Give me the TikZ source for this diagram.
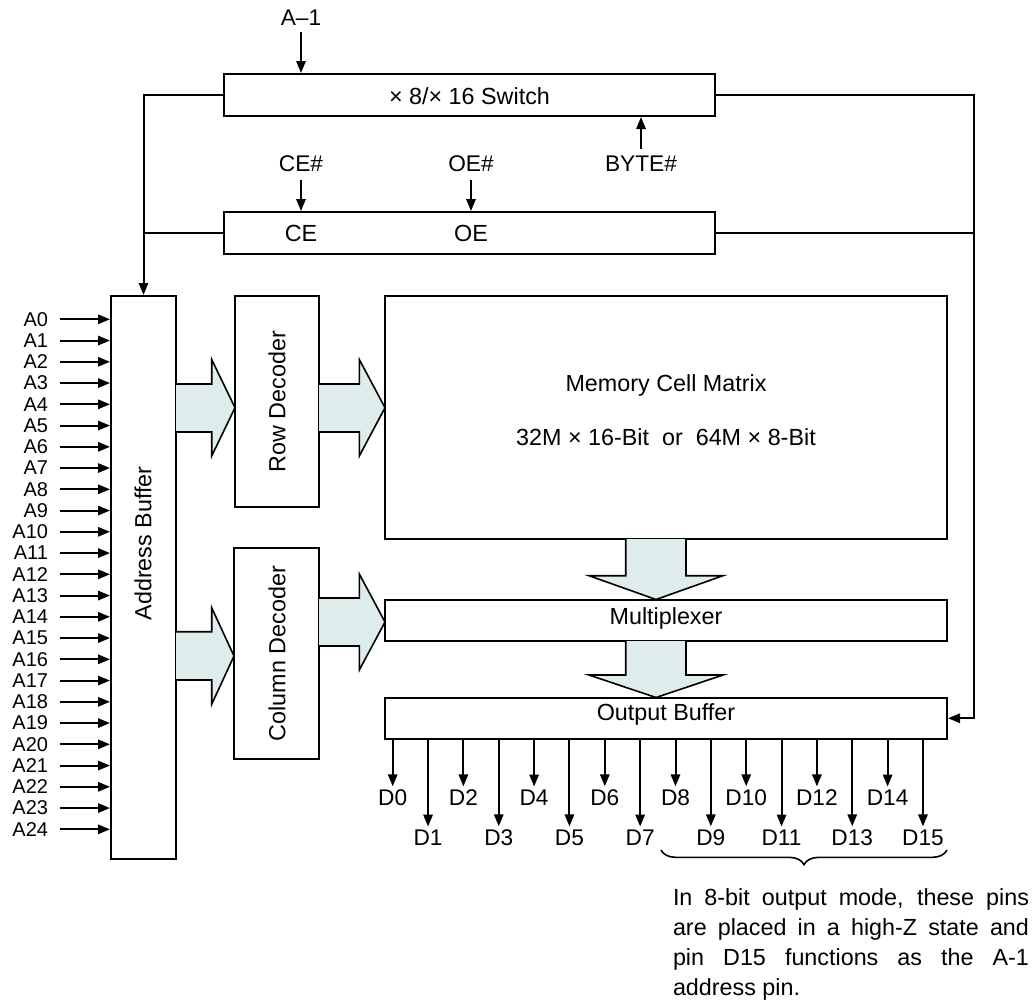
\documentclass[tikz,border=0pt]{standalone}
\usepackage{fontspec}
\setmainfont{Liberation Sans}
\usetikzlibrary{arrows.meta,positioning,decorations.pathreplacing}

\definecolor{busfill}{RGB}{222,236,236}

\tikzset{every picture/.style={line width=1.5pt}}
\tikzset{
  blk/.style 2 args={draw, rectangle, inner sep=0pt, minimum width=#1*0.75pt, minimum height=#2*0.75pt},
  txt/.style={inner sep=0pt, font=\fontsize{17.5}{22.5}\selectfont},
  apin/.style={inner sep=0pt, font=\fontsize{15}{18}\selectfont},
  dpin/.style={inner sep=0pt, font=\fontsize{17}{20}\selectfont},
  sig/.style={-{Triangle[length=9pt,width=7pt]}, line width=1.5pt},
  bus/.style={draw, fill=busfill, line width=1.2pt, line join=miter},
}

\begin{document}
\begin{tikzpicture}[x=0.75pt,y=0.75pt,yscale=-1,xscale=1]
\useasboundingbox (0,0) rectangle (1035,1007);

%Shape: Blocks
\node[blk={491}{42}] (sw) at (469.5,95) {};
\node[blk={491}{42}] (ctl) at (469.5,233) {};
\node[blk={65}{563}] (ab) at (143.5,577.5) {};
\node[blk={84}{211}] (rd) at (277,401.5) {};
\node[blk={85}{211}] (cd) at (276.5,653.5) {};
\node[blk={562}{243}] (mat) at (666,417.5) {};
\node[blk={562}{41.5}] (mux) at (666,620.25) {};
\node[blk={562}{41.5}] (ob) at (666,718.25) {};

% Text Node
\node[txt] (swt) at (469.5,96) {× 8/× 16 Switch};
\node[txt] (cet) at (301,233) {CE};
\node[txt] (oet) at (471,233) {OE};
\node[txt, rotate=90] (abt) at (143,543.5) {Address Buffer};
\node[txt, rotate=90] (rdt) at (277,401.5) {Row Decoder};
\node[txt, rotate=90] (cdt) at (277,653.5) {Column Decoder};
\node[txt] (matt) at (666,385) {Memory Cell Matrix};
\node[txt] (matsz) at (666,437) {32M × 16-Bit\ \ or\ \ 64M × 8-Bit};
\node[txt] (muxt) at (666,618) {Multiplexer};
\node[txt] (obt) at (666,714) {Output Buffer};

% Control inputs
\node[dpin] (am1) at (301,18) {A–1};
\node[dpin] (cen) at (301,164) {CE\#};
\node[dpin] (oen) at (471,164) {OE\#};
\node[dpin] (byte) at (641,164) {BYTE\#};
\draw[sig, shorten <=4pt] (am1.south) -- (am1.south |- sw.north);
\draw[sig, shorten <=5pt] (cen.south) -- (cen.south |- ctl.north);
\draw[sig, shorten <=5pt] (oen.south) -- (oen.south |- ctl.north);
\draw[sig, shorten <=5pt] (byte.north) -- (byte.north |- sw.south);

% Connection
\coordinate (rbus) at (974,95);
\draw[sig] (sw.west) -| (ab.north);
\draw (ctl.west) -- (ctl.west -| ab.north);
\draw[sig] (sw.east) -- (rbus) |- (ob.east);
\draw (ctl.east) -- (ctl.east -| rbus);

% Address pins
\foreach \i in {0,...,24}{
  \node[apin, anchor=east] (a\i) at (49,319.3+21.25*\i) {A\i};
  \draw[sig, shorten <=8pt] (a\i.east) -- (a\i.east -| ab.west);
}

% Data pins
\foreach \i in {0,...,15}{
  \pgfmathsetmacro{\dx}{392.7+35.35*\i}
  \pgfmathsetmacro{\dy}{ifthenelse(mod(\i,2)==0,798,838)}
  \node[dpin] (d\i) at (\dx,\dy) {D\i};
  \draw[sig, shorten >=2pt] (ob.south -| d\i) -- (d\i.north);
}

%Shape: Bus arrows
\draw[bus] (176,384) -- (211.7,384) -- (211.7,359.5) -- (235,407.7) -- (211.7,456) -- (211.7,432) -- (176,432);
\draw[bus] (319,384) -- (359.3,384) -- (359.3,359.5) -- (385,407.7) -- (359.3,456) -- (359.3,432) -- (319,432);
\draw[bus] (176,631.7) -- (211.7,631.7) -- (211.7,607.7) -- (234,656) -- (211.7,704.3) -- (211.7,680) -- (176,680);
\draw[bus] (319,598) -- (359.3,598) -- (359.3,574) -- (385,622) -- (359.3,670) -- (359.3,646) -- (319,646);
\draw[bus] (625.7,539) -- (625.7,575.7) -- (589,575.7) -- (656,599.5) -- (723,575.7) -- (686,575.7) -- (686,539);
\draw[bus] (625.7,641) -- (625.7,675) -- (589,675) -- (656,697.5) -- (723,675) -- (686,675) -- (686,641);

% Brace and note
\draw[line width=1.2pt, decorate, decoration={brace, mirror, amplitude=11pt}] (661,850) -- (947,850);
\node[txt, anchor=north west, text width=267pt, align=justify] (note) at (672,888)
  {In 8-bit output mode, these pins\linebreak are placed in a high-Z state and\linebreak pin D15 functions as the A-1\linebreak address pin.};

\end{tikzpicture}
\end{document}
